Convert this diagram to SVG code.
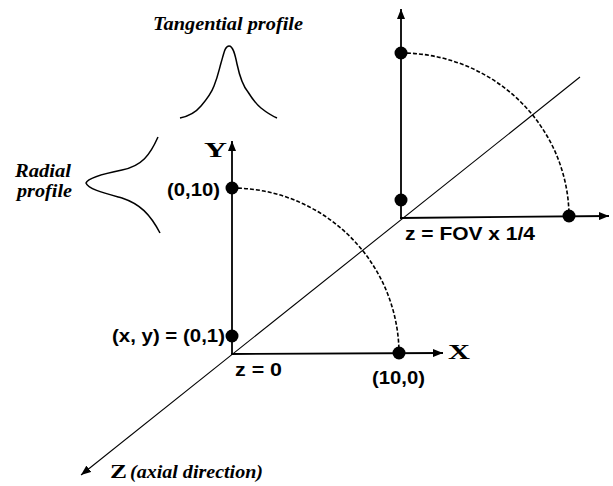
<svg xmlns="http://www.w3.org/2000/svg" width="613" height="486" viewBox="0 0 613 486">
<style>
.ax{stroke:#000;stroke-width:1.8;fill:none}
.zax{stroke:#000;stroke-width:1.1;fill:none}
.arc{stroke:#000;stroke-width:1.6;fill:none;stroke-dasharray:4 2}
.prof{stroke:#000;stroke-width:1.5;fill:none}
.dot{fill:#000}
.sans{font-family:"Liberation Sans",Arial,sans-serif;font-weight:bold;font-size:18px;fill:#000}
.serif{font-family:"Liberation Serif","Times New Roman",serif;font-weight:bold;fill:#000}
.it{font-family:"Liberation Serif","Times New Roman",serif;font-weight:bold;font-style:italic;font-size:18px;fill:#000}
</style>
<defs>
<marker id="ah" viewBox="0 0 10 8" refX="10" refY="4" markerWidth="10" markerHeight="8" markerUnits="userSpaceOnUse" orient="auto">
<path d="M0,0 L10,4 L0,8 Z" fill="#000"/>
</marker>
</defs>
<rect width="613" height="486" fill="#fff"/>
<g id="connectors">
<line class="zax" x1="580" y1="77" x2="81" y2="475" marker-end="url(#ah)"/>
<line class="ax" x1="232" y1="355" x2="232" y2="141" marker-end="url(#ah)"/>
<line class="ax" x1="231" y1="354" x2="443" y2="353" marker-end="url(#ah)"/>
<line class="ax" x1="401" y1="219" x2="401" y2="9" marker-end="url(#ah)"/>
<line class="ax" x1="400" y1="218" x2="609" y2="216" marker-end="url(#ah)"/>
<path class="arc" d="M232,188 A167,166 0 0 1 399,353"/>
<path class="arc" d="M401,53 A168,164 0 0 1 569,216"/>
</g>
<g id="tangential-profile">
<path class="prof" d="M180,118 C190,116 196,112 201,106 C207,99 211,94 214,86 C218,76 219,70 221,63 C224,53 225,46 229,46 C233,46 235,54 237,64 C240,78 243,86 248,92 C253,100 256,104 261,108 C266,112 270,115 277,118"/>
<text class="it" x="153" y="30" textLength="150" lengthAdjust="spacingAndGlyphs">Tangential profile</text>
</g>
<g id="radial-profile">
<path class="prof" d="M158,137 C150,155 142,166 122,170 C102,174 88,178 86,183 C88,189 104,193 122,198 C140,204 150,214 160,233"/>
<text class="it" x="15" y="177" textLength="56" lengthAdjust="spacingAndGlyphs">Radial</text>
<text class="it" x="17" y="197" textLength="55" lengthAdjust="spacingAndGlyphs">profile</text>
</g>
<g id="front-plane">
<circle class="dot" cx="232" cy="188" r="6.5"/>
<circle class="dot" cx="232" cy="336" r="6.5"/>
<circle class="dot" cx="399" cy="353" r="6.5"/>
<text class="serif" x="204" y="157" font-size="20" textLength="23" lengthAdjust="spacingAndGlyphs">Y</text>
<text class="serif" x="448" y="359" font-size="20" textLength="22" lengthAdjust="spacingAndGlyphs">X</text>
<text class="sans" x="167" y="196" textLength="53" lengthAdjust="spacingAndGlyphs">(0,10)</text>
<text class="sans" x="112" y="342" textLength="113" lengthAdjust="spacingAndGlyphs">(x, y) = (0,1)</text>
<text class="sans" x="235" y="376" textLength="47" lengthAdjust="spacingAndGlyphs">z = 0</text>
<text class="sans" x="372" y="384" textLength="53" lengthAdjust="spacingAndGlyphs">(10,0)</text>
</g>
<g id="back-plane">
<circle class="dot" cx="401" cy="53" r="6.5"/>
<circle class="dot" cx="401" cy="200" r="6.5"/>
<circle class="dot" cx="569" cy="216" r="6.5"/>
<text class="sans" x="405" y="240" textLength="130" lengthAdjust="spacingAndGlyphs">z = FOV x 1/4</text>
</g>
<g id="z-label">
<text class="serif" x="110" y="478" font-size="19" textLength="17" lengthAdjust="spacingAndGlyphs">Z</text>
<text class="it" x="130" y="478" textLength="133" lengthAdjust="spacingAndGlyphs">(axial direction)</text>
</g>
</svg>
